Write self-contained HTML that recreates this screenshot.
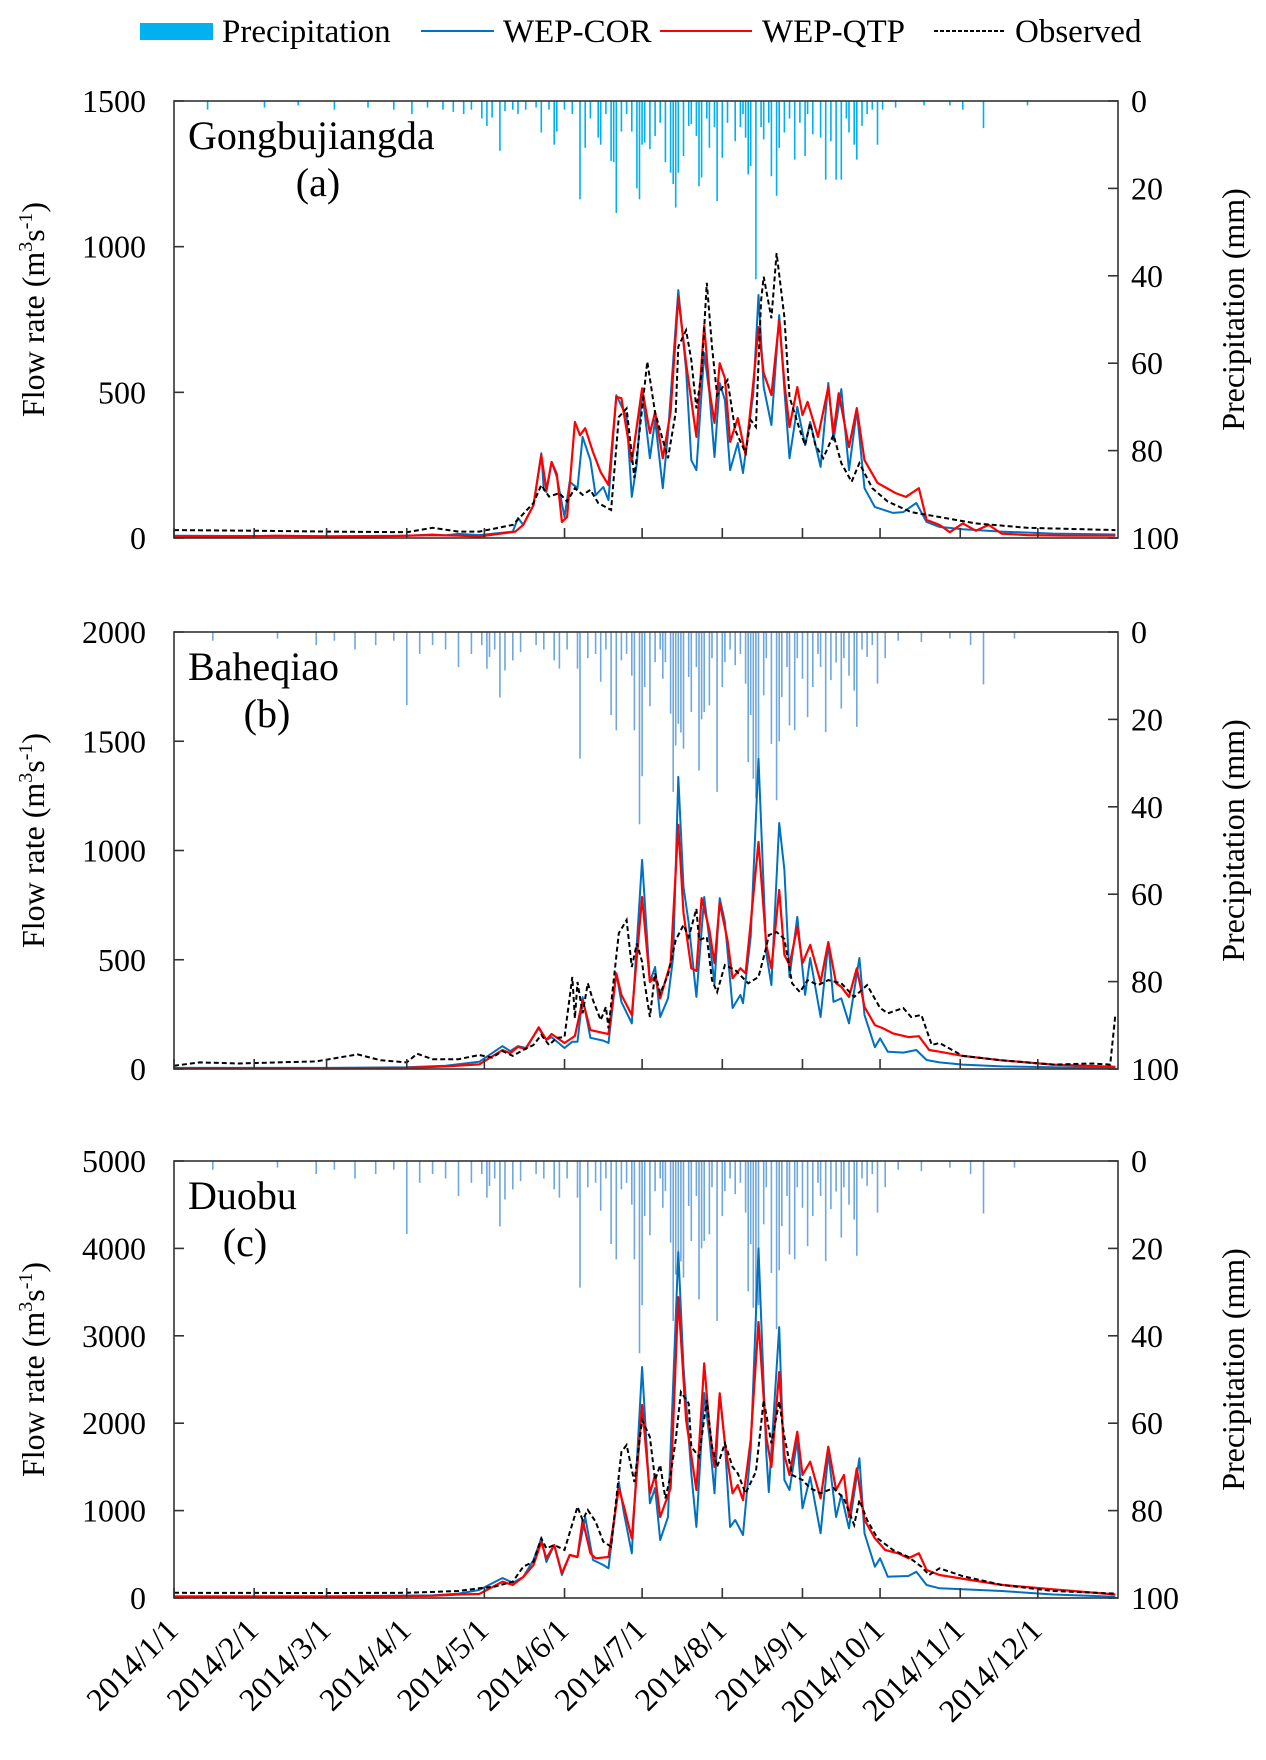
<!DOCTYPE html>
<html><head><meta charset="utf-8">
<style>
html,body{margin:0;padding:0;background:#fff;}
svg{display:block;font-family:"Liberation Serif",serif;}
</style></head>
<body>
<svg id="chart" width="1266" height="1760" viewBox="0 0 1266 1760" xmlns="http://www.w3.org/2000/svg">
  <g id="legend" font-size="33">
    <rect x="140" y="23" width="73" height="17" fill="#00B0F0"/>
    <text x="222" y="42">Precipitation</text>
    <line x1="421" y1="31" x2="494" y2="31" stroke="#0070C0" stroke-width="2"/>
    <text x="503" y="42">WEP-COR</text>
    <line x1="660" y1="31" x2="752" y2="31" stroke="#FF0000" stroke-width="2"/>
    <text x="762" y="42">WEP-QTP</text>
    <line x1="934" y1="31" x2="1006" y2="31" stroke="#000" stroke-width="2" stroke-dasharray="4,2"/>
    <text x="1015" y="42">Observed</text>
  </g>
</svg>
<script>
// ---------- shared axis data ----------
const monthDays = [0,31,59,90,120,151,181,212,243,273,304,334];
const monthLabels = ["2014/1/1","2014/2/1","2014/3/1","2014/4/1","2014/5/1","2014/6/1","2014/7/1","2014/8/1","2014/9/1","2014/10/1","2014/11/1","2014/12/1"];
const precipTicks = [0,20,40,60,80,100];
const flowTicksA = [0,500,1000,1500];
const flowTicksB = [0,500,1000,1500,2000];
const flowTicksC = [0,1000,2000,3000,4000,5000];

// ---------- panel (a) Gongbujiangda ----------
const aCorD = [0,30,60,90,100,105,110,118,131,133,135,139,142,143,144,146,148,151,153,156,158,161,163,166,168,171,175,177,179,181,184,186,189,191,195,198,200,202,205,207,209,211,213,215,218,220,224,226,228,231,234,236,238,241,244,246,250,253,255,258,261,264,267,271,278,282,287,291,296,305,320,340,364];
const aCorV = [8,7,6,8,12,9,14,10,22,69,45,113,291,165,158,261,210,72,193,171,347,267,147,175,130,490,416,141,257,508,274,405,171,360,851,577,267,233,635,497,278,532,474,233,326,223,497,834,518,388,765,508,274,450,319,398,244,532,336,511,233,439,171,106,86,89,120,55,38,30,22,15,12];
const aQtpD = [0,20,40,60,80,100,110,118,132,135,139,142,144,146,148,150,152,155,157,159,162,165,168,171,173,177,181,184,186,189,192,195,198,202,205,207,209,211,213,215,218,221,224,226,228,231,234,236,238,241,243,245,249,253,255,257,261,264,267,272,279,283,288,291,296,300,305,310,315,320,330,345,364];
const aQtpV = [5,4,8,5,6,10,8,5,22,45,113,285,165,261,220,55,72,398,353,377,295,226,182,484,480,261,514,360,432,274,432,827,600,347,730,508,395,600,549,330,412,285,532,724,566,491,748,532,381,518,422,467,347,518,360,497,312,446,267,189,154,141,171,62,45,20,50,25,45,15,10,8,8];
const aObsD = [0,30,60,90,100,110,118,131,139,142,145,149,152,155,158,161,164,169,172,175,178,183,186,191,194,195,198,200,202,204,206,208,210,214,217,221,223,225,227,228,231,233,236,238,242,244,246,248,251,255,258,262,265,270,276,285,296,310,330,364];
const aObsV = [27,25,22,20,35,22,22,45,120,182,142,154,125,171,148,165,120,96,415,445,206,605,430,274,430,657,713,611,445,567,876,657,490,542,370,292,405,381,816,897,754,978,758,484,370,319,394,319,274,354,257,193,257,171,125,89,72,50,35,27];
const aPrecipD = [13,35,48,62,75,85,92,98,104,108,112,115,119,121,123,126,128,131,133,136,140,142,145,147,148,151,154,157,159,161,164,165,167,169,170,171,173,175,177,179,180,181,182,184,186,188,190,192,193,194,195,197,199,200,202,203,204,206,207,209,210,212,214,217,219,220,221,222,223,225,227,228,230,231,233,234,236,238,240,242,244,245,247,250,252,254,256,258,260,261,263,264,266,268,270,272,274,279,290,300,305,313,330];
const aPrecipV = [2,1.5,1,2,1.5,2,3,1.5,2,2.5,3,2,4,5.7,3.8,11.4,2.3,2,3,2,1.5,7.2,2,10,7,2,3,22.5,10.7,4,8.4,10,3,13.7,14,25.6,7,3,7,20,22.5,10,9.5,11,8,5,14,16.4,19,24.4,16.4,12.6,5.7,5.3,8,19.5,17.5,4,10.7,6,22.9,13,5,9.2,6,3,8.4,16.8,14.9,40.8,6,8.8,5,17.2,21.7,10.7,7.2,4,13.4,5,12.6,3,7.6,8.4,18,9.2,18,18,4,7.2,10,13.4,5.7,3,2,10,2,1.5,1,1,2,6.2,1];

// ---------- panel (b) Baheqiao ----------
const bCorD = [0,60,90,105,118,127,130,133,136,141,144,146,151,154,156,158,161,166,168,171,173,177,181,184,186,188,191,193,195,197,199,202,205,207,209,211,213,216,219,220,223,226,229,231,234,236,238,241,244,246,250,253,255,258,261,265,267,271,273,276,282,287,291,296,305,320,340,364];
const bCorV = [5,5,8,15,33,105,82,105,96,186,133,146,96,125,125,329,143,130,119,438,307,209,957,398,467,238,323,513,1337,833,668,330,787,590,389,782,673,279,339,301,604,1419,530,384,1126,911,421,696,339,508,238,577,307,323,209,508,247,100,140,79,75,87,41,30,20,12,8,5];
const bQtpD = [0,60,90,105,118,127,130,133,136,141,144,146,151,155,158,161,166,168,171,173,177,181,184,186,188,192,195,197,200,202,204,207,209,211,214,216,219,221,223,226,229,231,234,236,238,241,243,246,250,253,256,258,261,264,267,271,274,278,284,288,292,296,305,320,340,364];
const bQtpV = [3,3,5,12,21,87,72,101,91,191,133,160,119,151,315,178,165,160,438,339,247,787,398,421,323,484,1117,714,461,449,782,636,484,760,590,415,461,438,668,1039,568,461,819,522,476,650,484,568,398,581,392,376,330,461,284,201,187,163,146,150,87,79,60,40,20,10];
const bObsD = [0,10,25,40,55,71,80,90,94,100,110,118,123,127,131,135,139,142,145,148,151,154,155,156,158,160,162,165,167,168,172,175,177,179,181,182,184,186,188,191,194,197,199,202,203,206,208,210,213,217,222,226,229,230,233,236,239,242,245,249,253,258,263,268,273,276,282,285,289,293,296,305,320,340,355,362,364];
const bObsV = [15,30,25,30,35,67,40,30,70,45,45,64,52,82,60,87,110,156,110,143,146,421,232,398,255,392,315,224,284,186,621,682,467,575,490,392,238,438,346,430,590,659,604,733,590,604,407,352,476,453,392,421,558,613,627,595,392,352,407,384,407,392,330,384,279,255,279,238,247,110,119,60,40,20,25,20,250];
const bPrecipD = [15,40,55,62,70,78,85,90,95,100,105,110,115,119,121,122,124,126,128,131,134,140,143,147,149,152,156,157,160,163,165,167,169,171,173,175,177,178,180,181,182,184,186,188,189,190,192,193,194,195,196,197,199,200,202,203,204,205,207,208,210,212,213,215,217,219,221,222,223,224,225,226,228,229,231,233,234,235,237,238,240,241,243,245,247,249,250,252,254,256,258,259,261,263,264,266,268,270,272,275,280,289,300,308,313,325];
const bPrecipV = [2,1.5,3,2,4,3,2,16.7,5,3,4,8,5,3,8.4,5.7,4,15,8.8,6.5,4.6,3,4,6.5,8.4,4,8.4,29,6,5,11.4,4,19,22.5,6.5,5,10,22.5,44,33,12.6,17,6.9,4,10.7,6.9,18.7,36.6,26,21,23,26.7,10.3,18.3,8,31.7,20,18.3,16.8,6,36.6,12.6,6.9,4,7.6,5,11.8,29.8,19,33.6,38,33,14.5,6,25.6,38.5,25,14.9,8,21.4,22.5,6,10.7,19.5,12.6,5,8,22.9,11,7,17.5,6,10,13.4,21.7,4,5.7,3,11.8,6,2,2.3,1.5,3,12,1.5];

// ---------- panel (c) Duobu ----------
const cCorD = [0,60,100,110,118,127,131,135,139,142,144,147,150,153,156,159,162,166,168,172,174,177,181,184,186,188,191,195,197,200,202,205,207,209,211,213,215,217,220,223,226,229,230,234,236,238,241,243,246,250,253,256,258,261,265,267,271,273,276,284,287,291,296,305,320,340,364];
const cCorV = [20,20,30,50,92,229,175,240,435,683,412,606,263,492,469,927,435,378,340,1327,969,511,2643,1083,1258,664,927,3958,2643,1427,812,2345,1842,1198,2342,1770,812,892,721,1693,4000,1655,1213,3100,1350,1236,1808,1026,1384,740,1655,927,1178,797,1598,740,358,454,244,252,301,149,111,100,80,40,15];
const cQtpD = [0,60,100,110,118,127,131,135,139,142,144,147,150,153,156,158,161,163,168,172,174,177,181,184,186,188,192,195,198,202,205,207,209,211,213,216,218,220,223,226,229,231,234,236,238,241,243,246,250,253,256,259,261,264,267,271,275,280,284,288,291,296,308,320,340,364];
const cQtpV = [15,15,25,40,46,187,149,240,378,641,454,606,283,492,469,892,511,454,469,1255,1045,683,2208,1198,1407,927,1255,3443,2036,1236,2685,1956,1499,2342,1770,1198,1293,1121,1808,3158,1842,1499,2585,1636,1407,1903,1407,1559,1140,1731,1236,1407,927,1484,892,683,549,511,454,511,320,263,206,150,100,40];
const cObsD = [0,60,90,110,118,124,131,135,139,142,144,147,151,156,158,160,163,166,169,173,175,178,181,184,186,188,190,192,194,196,199,200,203,206,208,210,213,216,218,221,225,228,231,234,236,239,243,246,250,255,259,263,265,268,272,278,284,289,292,296,305,320,340,364];
const cObsV = [60,57,60,80,111,130,187,358,415,683,568,606,549,1045,892,1007,873,644,587,1670,1750,1327,2036,1842,1350,1522,1140,1407,1808,2357,2227,1731,1616,2265,1731,1499,1770,1499,1426,1198,1445,2265,1770,2250,1842,1407,1350,1258,1198,1258,1140,835,1121,892,683,549,469,358,263,340,250,150,80,50];
const cPrecipD = bPrecipD;
const cPrecipV = bPrecipV;

// ---------- drawing ----------
const NS = "http://www.w3.org/2000/svg";
const svg = document.getElementById("chart");
const X0 = 174, X1 = 1118, NDAYS = 365;
function xScale(d){ return X0 + d*(X1-X0)/NDAYS; }
function mk(tag, attrs, parent){
  const e = document.createElementNS(NS, tag);
  for (const k in attrs) e.setAttribute(k, attrs[k]);
  (parent||svg).appendChild(e);
  return e;
}
function pathFrom(days, vals, yS){
  const n = Math.min(days.length, vals.length);
  let d = "";
  for (let i=0;i<n;i++) d += (i?"L":"M") + xScale(days[i]).toFixed(1) + "," + yS(vals[i]).toFixed(1);
  return d;
}

function drawPanel(p){
  const top = p.top, bot = p.bottom;
  const yS = v => bot - v/p.ymax*(bot-top);
  const pS = mm => top + mm/100*(bot-top);
  const g = mk("g", {});
  
  

  const pg = mk("g", {}, g);
  
  
  const n = Math.min(p.pD.length, p.pV.length);
  for (let i=0;i<n;i++){
    const r = mk("rect", {x:(xScale(p.pD[i])-0.8).toFixed(1), y:top, width:1.6, height:(pS(p.pV[i])-top).toFixed(1), fill:p.pColor}, pg);
    
    
  }

  const sCor = mk("path", {d:pathFrom(p.corD,p.corV,yS), fill:"none", stroke:"#0070C0", "stroke-width":2, "stroke-linejoin":"round"}, g);
  
  
  const sQtp = mk("path", {d:pathFrom(p.qtpD,p.qtpV,yS), fill:"none", stroke:"#FF0000", "stroke-width":2.2, "stroke-linejoin":"round"}, g);
  
  
  const sObs = mk("path", {d:pathFrom(p.obsD,p.obsV,yS), fill:"none", stroke:"#000", "stroke-width":2, "stroke-dasharray":"5,3"}, g);
  
  

  const fr = mk("rect", {x:X0, y:top, width:X1-X0, height:bot-top, fill:"none", stroke:"#333", "stroke-width":1.6}, g);
  
  

  p.ticks.forEach(t=>{
    const y = yS(t);
    const tl = mk("line", {x1:X0, x2:X0+10, y1:y, y2:y, stroke:"#333", "stroke-width":1.6}, g);
    
    
    const tx = mk("text", {x:146, y:y+11, "text-anchor":"end", "font-size":32}, g);
    
    
    tx.textContent = t;
  });
  precipTicks.forEach(t=>{
    const y = pS(t);
    const tl = mk("line", {x1:X1-10, x2:X1, y1:y, y2:y, stroke:"#333", "stroke-width":1.6}, g);
    
    
    const tx = mk("text", {x:1131, y:y+11, "font-size":32}, g);
    
    
    tx.textContent = t;
  });
  monthDays.forEach(d=>{
    const x = xScale(d);
    const tl = mk("line", {x1:x, x2:x, y1:bot, y2:bot-10, stroke:"#333", "stroke-width":1.6}, g);
    
    
  });

  const st = mk("text", {x:p.nameX, y:top+48, "font-size":40}, g);
  
  
  st.textContent = p.name;
  const lt = mk("text", {x:p.letterX, y:top+95, "font-size":40, "text-anchor":"middle"}, g);
  
  
  lt.textContent = "(" + p.key + ")";

  const cy = (top+bot)/2;
  const yt = mk("text", {x:0, y:0, "font-size":32, "text-anchor":"middle", transform:`translate(44,${cy-10}) rotate(-90)`}, g);
  
  
  yt.innerHTML = 'Flow rate (m<tspan dy="-12" font-size="20">3</tspan><tspan dy="12">s</tspan><tspan dy="-12" font-size="20">-1</tspan><tspan dy="12">)</tspan>';
  const rt = mk("text", {x:0, y:0, "font-size":32, "text-anchor":"middle", transform:`translate(1244,${cy-10}) rotate(-90)`}, g);
  
  
  rt.textContent = "Precipitation (mm)";
}

const panels = [
  {key:"a", name:"Gongbujiangda", nameX:188, letterX:318, top:101, bottom:538, ymax:1500, ticks:flowTicksA, pColor:"#00B0F0",
   corD:aCorD, corV:aCorV, qtpD:aQtpD, qtpV:aQtpV, obsD:aObsD, obsV:aObsV, pD:aPrecipD, pV:aPrecipV},
  {key:"b", name:"Baheqiao", nameX:188, letterX:267, top:632, bottom:1069, ymax:2000, ticks:flowTicksB, pColor:"#6FA8DC",
   corD:bCorD, corV:bCorV, qtpD:bQtpD, qtpV:bQtpV, obsD:bObsD, obsV:bObsV, pD:bPrecipD, pV:bPrecipV},
  {key:"c", name:"Duobu", nameX:188, letterX:245, top:1161, bottom:1598, ymax:5000, ticks:flowTicksC, pColor:"#6FA8DC",
   corD:cCorD, corV:cCorV, qtpD:cQtpD, qtpV:cQtpV, obsD:cObsD, obsV:cObsV, pD:cPrecipD, pV:cPrecipV}
];
panels.forEach(drawPanel);

monthDays.forEach((d,i)=>{
  const x = xScale(d) + 6;
  const t = mk("text", {x:0, y:0, "font-size":32, "text-anchor":"end", transform:`translate(${x.toFixed(1)},1632) rotate(-45)`});
  
  
  t.textContent = monthLabels[i];
});
</script>
</body></html>
